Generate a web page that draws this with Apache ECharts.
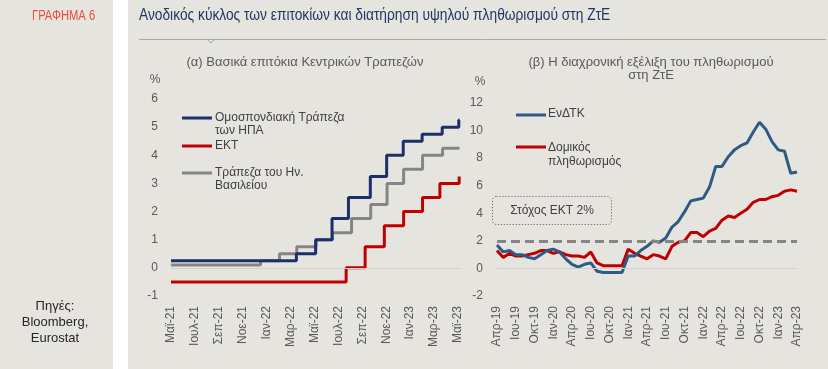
<!DOCTYPE html>
<html><head><meta charset="utf-8">
<script src="https://cdn.jsdelivr.net/npm/echarts@6/dist/echarts.min.js"></script>
<style>html,body{margin:0;padding:0;background:#e6e4df}#c{width:828px;height:369px}</style>
</head><body><div id="c"></div>
<script>
// ---------- Panel (α): policy rates, step changes [date, rate %] ----------
const fedRate = [['2021-05-01',0.25],['2022-03-16',0.5],['2022-05-04',1.0],['2022-06-15',1.75],['2022-07-27',2.5],['2022-09-21',3.25],['2022-11-02',4.0],['2022-12-14',4.5],['2023-02-01',4.75],['2023-03-22',5.0],['2023-05-03',5.25]];
const ecbRate = [['2021-05-01',-0.5],['2022-07-21',0.0],['2022-09-08',0.75],['2022-10-27',1.5],['2022-12-15',2.0],['2023-02-02',2.5],['2023-03-16',3.0],['2023-05-04',3.25]];
const boeRate = [['2021-05-01',0.1],['2021-12-16',0.25],['2022-02-03',0.5],['2022-03-17',0.75],['2022-05-05',1.0],['2022-06-16',1.25],['2022-08-04',1.75],['2022-09-22',2.25],['2022-11-03',3.0],['2022-12-15',3.5],['2023-02-02',4.0],['2023-03-23',4.25]];
const ratesEndDate = '2023-05-05';
const leftTickLabels = ['Μαϊ-21','Ιουλ-21','Σεπ-21','Νοε-21','Ιαν-22','Μαρ-22','Μαϊ-22','Ιουλ-22','Σεπ-22','Νοε-22','Ιαν-23','Μαρ-23','Μαϊ-23'];

// ---------- Panel (β): euro area inflation, monthly Apr-19 .. Apr-23 ----------
const monthNames = ['Ιαν','Φεβ','Μαρ','Απρ','Μαϊ','Ιου','Ιου','Αυγ','Σεπ','Οκτ','Νοε','Δεκ'];
const inflCategories = [];
for (let y = 2019; y <= 2023; y++) for (let m = 0; m < 12; m++) {
  if ((y === 2019 && m < 3) || (y === 2023 && m > 3)) continue;
  inflCategories.push(monthNames[m] + '-' + String(y).slice(2));
}
const hicp = [1.7,1.2,1.3,1.0,1.0,0.8,0.7,1.0,1.3,1.4,1.2,0.7,0.3,0.1,0.3,0.4,-0.2,-0.3,-0.3,-0.3,-0.3,0.9,0.9,1.3,1.6,2.0,1.9,2.2,3.0,3.4,4.1,4.9,5.0,5.1,5.9,7.4,7.4,8.1,8.6,8.9,9.1,9.9,10.6,10.1,9.2,8.6,8.5,6.9,7.0];
const coreInfl = [1.3,0.8,1.1,0.9,0.9,1.0,1.1,1.3,1.3,1.1,1.2,1.0,0.9,0.9,0.8,1.2,0.4,0.2,0.2,0.2,0.2,1.4,1.1,0.9,0.7,1.0,0.9,0.7,1.6,1.9,2.0,2.6,2.6,2.3,2.7,2.9,3.5,3.8,3.7,4.0,4.3,4.8,5.0,5.0,5.2,5.3,5.6,5.7,5.6];
const ecbTarget = 2;

function monthPos(s){
  const [y,m,d] = s.split('-').map(Number);
  const dim = new Date(y, m, 0).getDate();
  return (y-2021)*12 + (m-5) + (d-1)/dim;
}
function stepData(arr){
  const out = arr.map(p => [monthPos(p[0]), p[1]]);
  out.push([monthPos(ratesEndDate), arr[arr.length-1][1]]);
  return out;
}

const FONT = '"Liberation Sans", Arial, sans-serif';
const LBL = '#595959';

const chart = echarts.init(document.getElementById('c'), null, {renderer:'canvas'});
const zeroLine = {silent:true, symbol:'none', label:{show:false}, lineStyle:{color:'#d2d0cb', width:1, type:'solid'}, data:[{yAxis:0}]};

chart.setOption({
  backgroundColor:'#e6e4df',
  animation:false,
  grid:[
    {left:171, top:99, width:290, height:197},
    {left:497, top:103, width:300, height:193}
  ],
  xAxis:[
    {type:'value', gridIndex:0, min:0, max:24.25, interval:2,
     axisLine:{show:false}, axisTick:{show:false}, splitLine:{show:false},
     axisLabel:{rotate:90, margin:10, fontFamily:FONT, fontSize:12, color:LBL, showMaxLabel:false,
       formatter:v => (Math.abs(v/2 - Math.round(v/2))<1e-6 ? (leftTickLabels[Math.round(v/2)]||'') : '')}},
    {type:'category', gridIndex:1, data:inflCategories, boundaryGap:false,
     axisLine:{show:false}, axisTick:{show:false}, splitLine:{show:false},
     axisLabel:{rotate:90, margin:10, interval:2, fontFamily:FONT, fontSize:12, color:LBL}}
  ],
  yAxis:[
    {type:'value', gridIndex:0, min:-1, max:6, interval:1,
     axisLine:{show:false}, axisTick:{show:false}, splitLine:{show:false},
     axisLabel:{margin:13, fontFamily:FONT, fontSize:12, color:LBL}},
    {type:'value', gridIndex:1, min:-2, max:12, interval:2,
     axisLine:{show:false}, axisTick:{show:false}, splitLine:{show:false},
     axisLabel:{margin:14, fontFamily:FONT, fontSize:12, color:LBL}}
  ],
  series:[
    {name:'ΕΚΤ', type:'line', xAxisIndex:0, yAxisIndex:0, step:'end', showSymbol:false,
     data:stepData(ecbRate), lineStyle:{color:'#c00000', width:3}, markLine:zeroLine, z:3},
    {name:'Τράπεζα του Ην. Βασιλείου', type:'line', xAxisIndex:0, yAxisIndex:0, step:'end', showSymbol:false,
     data:stepData(boeRate), lineStyle:{color:'#858585', width:3}, z:3},
    {name:'Ομοσπονδιακή Τράπεζα των ΗΠΑ', type:'line', xAxisIndex:0, yAxisIndex:0, step:'end', showSymbol:false,
     data:stepData(fedRate), lineStyle:{color:'#1c2f6b', width:3}, z:4},
    {name:'Δομικός πληθωρισμός', type:'line', xAxisIndex:1, yAxisIndex:1, showSymbol:false,
     data:coreInfl, lineStyle:{color:'#c00000', width:3}, z:3,
     markLine:{silent:true, symbol:'none', label:{show:false}, data:[{yAxis:0, lineStyle:{color:'#d2d0cb', width:1, type:'solid'}},
       {yAxis:ecbTarget, lineStyle:{color:'#858585', width:3, type:[9,5]}}]}},
    {name:'ΕνΔΤΚ', type:'line', xAxisIndex:1, yAxisIndex:1, showSymbol:false,
     data:hicp, lineStyle:{color:'#2f5a86', width:3}, z:4}
  ],
  graphic:[
    {type:'rect', shape:{x:113, y:0, width:15, height:369}, style:{fill:'#ffffff'}, silent:true},
    {type:'text', x:32, y:16, scaleX:0.8, style:{text:'ΓΡΑΦΗΜΑ 6', fontFamily:FONT, fontSize:14, fill:'#e5503f', verticalAlign:'middle'}},
    {type:'text', x:139, y:16, scaleX:0.86, style:{text:'Ανοδικός κύκλος των επιτοκίων και διατήρηση υψηλού πληθωρισμού στη ΖτΕ', fontFamily:FONT, fontSize:16, fill:'#1f3864', verticalAlign:'middle'}},
    {type:'line', shape:{x1:139, y1:39.5, x2:826, y2:39.5}, style:{stroke:'#a8a8a8', lineWidth:1}},
    {type:'polyline', shape:{points:[[208,40],[211,43],[214,40]]}, style:{stroke:'#a8a8a8', lineWidth:1, fill:null}},
    {type:'text', x:55, y:322, style:{text:'Πηγές:\nBloomberg,\nEurostat', fontFamily:FONT, fontSize:13, lineHeight:16, fill:'#262626', align:'center', verticalAlign:'middle'}},
    // panel titles
    {type:'text', x:305, y:62, style:{text:'(α) Βασικά επιτόκια Κεντρικών Τραπεζών', fontFamily:FONT, fontSize:13, fill:'#595959', align:'center', verticalAlign:'middle'}},
    {type:'text', x:651, y:69, style:{text:'(β) Η διαχρονική εξέλιξη του πληθωρισμού\nστη ΖτΕ', fontFamily:FONT, fontSize:13, lineHeight:13, fill:'#595959', align:'center', verticalAlign:'middle'}},
    {type:'text', x:155, y:80, style:{text:'%', fontFamily:FONT, fontSize:12, fill:LBL, align:'center', verticalAlign:'middle'}},
    {type:'text', x:480, y:82, style:{text:'%', fontFamily:FONT, fontSize:12, fill:LBL, align:'center', verticalAlign:'middle'}},
    // legend (α)
    {type:'line', shape:{x1:182, y1:118, x2:212, y2:118}, style:{stroke:'#1c2f6b', lineWidth:3}},
    {type:'text', x:215, y:124.5, style:{text:'Ομοσπονδιακή Τράπεζα\nτων ΗΠΑ', fontFamily:FONT, fontSize:12, lineHeight:13, fill:'#404040', verticalAlign:'middle'}},
    {type:'line', shape:{x1:182, y1:146, x2:212, y2:146}, style:{stroke:'#c00000', lineWidth:3}},
    {type:'text', x:215, y:146, style:{text:'ΕΚΤ', fontFamily:FONT, fontSize:12, fill:'#404040', verticalAlign:'middle'}},
    {type:'line', shape:{x1:182, y1:173, x2:212, y2:173}, style:{stroke:'#858585', lineWidth:3}},
    {type:'text', x:215, y:179.5, style:{text:'Τράπεζα του Ην.\nΒασιλείου', fontFamily:FONT, fontSize:12, lineHeight:13, fill:'#404040', verticalAlign:'middle'}},
    // legend (β)
    {type:'line', shape:{x1:516, y1:115, x2:546, y2:115}, style:{stroke:'#2f5a86', lineWidth:3}},
    {type:'text', x:548, y:114, style:{text:'ΕνΔΤΚ', fontFamily:FONT, fontSize:12, fill:'#404040', verticalAlign:'middle'}},
    {type:'line', shape:{x1:516, y1:147, x2:546, y2:147}, style:{stroke:'#c00000', lineWidth:3}},
    {type:'text', x:548, y:155, style:{text:'Δομικός\nπληθωρισμός', fontFamily:FONT, fontSize:12, lineHeight:14, fill:'#404040', verticalAlign:'middle'}},
    // target box
    {type:'rect', shape:{x:492.5, y:196.5, width:119, height:28, r:4}, style:{fill:null, stroke:'#555555', lineWidth:1, lineDash:[1,2]}},
    {type:'text', x:552, y:211, style:{text:'Στόχος ΕΚΤ 2%', fontFamily:FONT, fontSize:12, fill:'#404040', align:'center', verticalAlign:'middle'}}
  ]
});
</script>
</body></html>
